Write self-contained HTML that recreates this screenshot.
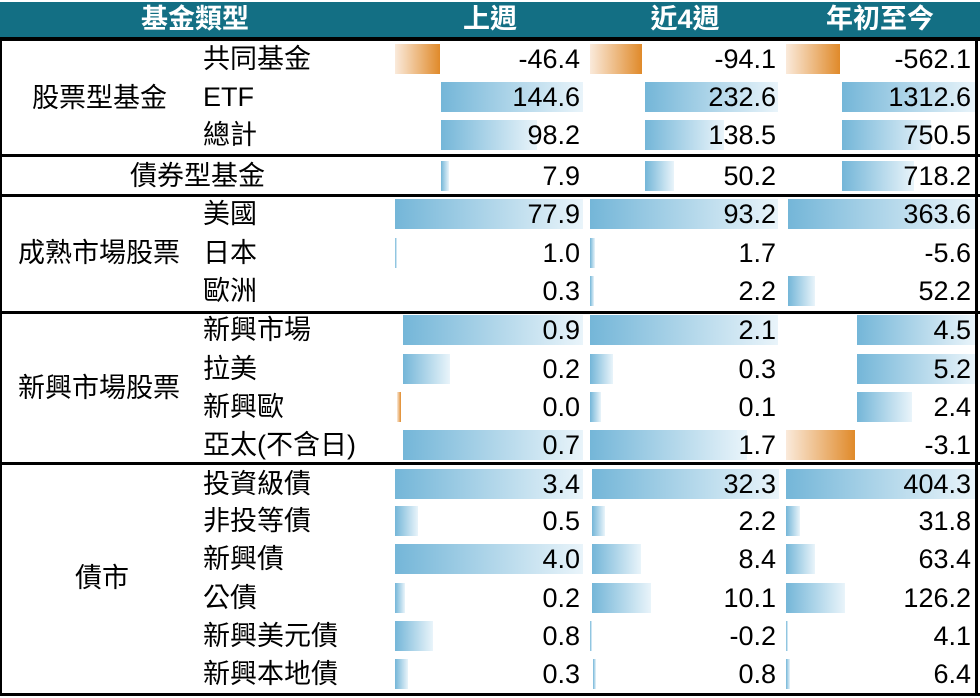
<!DOCTYPE html>
<html><head><meta charset="utf-8"><style>
body{margin:0;width:980px;height:698px;background:#fff;position:relative;overflow:hidden;font-family:"Liberation Sans","Noto Sans CJK TC",sans-serif;color:#000}
div{position:absolute}
.h{top:2px;height:35px;background:#136f84}
.ht{top:2px;height:35px;line-height:35px;color:#fff;font-weight:bold;font-size:27px;text-align:center}
.k{background:#000}
.t{font-size:27px;line-height:30px;white-space:nowrap}
.n{font-size:27px;line-height:30px;text-align:right;width:180px}
.b{height:30px;background:linear-gradient(to right,#74b6d8,#e9f4fa)}
.o{height:30px;background:linear-gradient(to right,#faeadb,#e08a2a)}
</style></head><body>
<div class="h" style="left:0;width:980px"></div>
<div class="ht" style="left:95px;width:200px">基金類型</div>
<div class="ht" style="left:440px;width:100px">上週</div>
<div class="ht" style="left:630px;width:110px">近4週</div>
<div class="ht" style="left:805px;width:150px">年初至今</div>
<div class="k" style="left:0;top:37px;width:980px;height:4px"></div>
<div class="k" style="left:0;top:154px;width:980px;height:3px"></div>
<div class="k" style="left:0;top:194px;width:980px;height:3px"></div>
<div class="k" style="left:0;top:311px;width:980px;height:3px"></div>
<div class="k" style="left:0;top:462px;width:980px;height:3px"></div>
<div class="k" style="left:0;top:693px;width:980px;height:3px"></div>
<div class="k" style="left:0;top:37px;width:2px;height:659px"></div>
<div class="k" style="left:975px;top:37px;width:3px;height:659px"></div>

<div class="o" style="left:395px;top:44px;width:45px"></div>
<div class="o" style="left:590px;top:44px;width:52px"></div>
<div class="o" style="left:786px;top:44px;width:54px"></div>
<div class="b" style="left:441px;top:82px;width:142px"></div>
<div class="b" style="left:645px;top:82px;width:133px"></div>
<div class="b" style="left:842px;top:82px;width:133px"></div>
<div class="b" style="left:441px;top:120px;width:96px"></div>
<div class="b" style="left:645px;top:120px;width:79px"></div>
<div class="b" style="left:842px;top:120px;width:89px"></div>
<div class="b" style="left:441px;top:161px;width:8px"></div>
<div class="b" style="left:645px;top:161px;width:29px"></div>
<div class="b" style="left:842px;top:161px;width:72px"></div>
<div class="b" style="left:395px;top:199px;width:188px"></div>
<div class="b" style="left:590px;top:199px;width:188px"></div>
<div class="b" style="left:788px;top:199px;width:187px"></div>
<div class="b" style="left:395px;top:238px;width:2px"></div>
<div class="b" style="left:590px;top:238px;width:5px"></div>
<div class="b" style="left:590px;top:276px;width:4px"></div>
<div class="b" style="left:788px;top:276px;width:27px"></div>
<div class="b" style="left:403px;top:315px;width:180px"></div>
<div class="b" style="left:590px;top:315px;width:188px"></div>
<div class="b" style="left:857px;top:315px;width:118px"></div>
<div class="b" style="left:403px;top:354px;width:47px"></div>
<div class="b" style="left:590px;top:354px;width:23px"></div>
<div class="b" style="left:857px;top:354px;width:118px"></div>
<div class="o" style="left:397px;top:392px;width:4px"></div>
<div class="b" style="left:590px;top:392px;width:11px"></div>
<div class="b" style="left:857px;top:392px;width:55px"></div>
<div class="b" style="left:403px;top:430px;width:180px"></div>
<div class="b" style="left:590px;top:430px;width:157px"></div>
<div class="o" style="left:786px;top:430px;width:69px"></div>
<div class="b" style="left:395px;top:469px;width:188px"></div>
<div class="b" style="left:592px;top:469px;width:187px"></div>
<div class="b" style="left:786px;top:469px;width:189px"></div>
<div class="b" style="left:395px;top:506px;width:23px"></div>
<div class="b" style="left:592px;top:506px;width:13px"></div>
<div class="b" style="left:786px;top:506px;width:14px"></div>
<div class="b" style="left:395px;top:544px;width:188px"></div>
<div class="b" style="left:592px;top:544px;width:49px"></div>
<div class="b" style="left:786px;top:544px;width:29px"></div>
<div class="b" style="left:395px;top:583px;width:10px"></div>
<div class="b" style="left:592px;top:583px;width:59px"></div>
<div class="b" style="left:786px;top:583px;width:59px"></div>
<div class="b" style="left:395px;top:621px;width:38px"></div>
<div class="b" style="left:590px;top:621px;width:2px"></div>
<div class="b" style="left:786px;top:621px;width:2px"></div>
<div class="b" style="left:395px;top:659px;width:13px"></div>
<div class="b" style="left:593px;top:659px;width:3px"></div>
<div class="b" style="left:786px;top:659px;width:4px"></div>

<div class="t" style="left:32px;top:83px">股票型基金</div>
<div class="t" style="left:130px;top:161px">債券型基金</div>
<div class="t" style="left:18px;top:238px">成熟市場股票</div>
<div class="t" style="left:18px;top:373px">新興市場股票</div>
<div class="t" style="left:75px;top:563px">債市</div>

<div class="t" style="left:203px;top:44px">共同基金</div>
<div class="t" style="left:203px;top:82px">ETF</div>
<div class="t" style="left:203px;top:120px">總計</div>
<div class="t" style="left:203px;top:199px">美國</div>
<div class="t" style="left:203px;top:238px">日本</div>
<div class="t" style="left:203px;top:276px">歐洲</div>
<div class="t" style="left:203px;top:315px">新興市場</div>
<div class="t" style="left:203px;top:354px">拉美</div>
<div class="t" style="left:203px;top:392px">新興歐</div>
<div class="t" style="left:203px;top:430px">亞太(不含日)</div>
<div class="t" style="left:203px;top:469px">投資級債</div>
<div class="t" style="left:203px;top:506px">非投等債</div>
<div class="t" style="left:203px;top:544px">新興債</div>
<div class="t" style="left:203px;top:583px">公債</div>
<div class="t" style="left:203px;top:621px">新興美元債</div>
<div class="t" style="left:203px;top:659px">新興本地債</div>

<div class="n" style="left:400px;top:44px">-46.4</div><div class="n" style="left:596px;top:44px">-94.1</div><div class="n" style="left:791px;top:44px">-562.1</div>
<div class="n" style="left:400px;top:82px">144.6</div><div class="n" style="left:596px;top:82px">232.6</div><div class="n" style="left:791px;top:82px">1312.6</div>
<div class="n" style="left:400px;top:120px">98.2</div><div class="n" style="left:596px;top:120px">138.5</div><div class="n" style="left:791px;top:120px">750.5</div>
<div class="n" style="left:400px;top:161px">7.9</div><div class="n" style="left:596px;top:161px">50.2</div><div class="n" style="left:791px;top:161px">718.2</div>
<div class="n" style="left:400px;top:199px">77.9</div><div class="n" style="left:596px;top:199px">93.2</div><div class="n" style="left:791px;top:199px">363.6</div>
<div class="n" style="left:400px;top:238px">1.0</div><div class="n" style="left:596px;top:238px">1.7</div><div class="n" style="left:791px;top:238px">-5.6</div>
<div class="n" style="left:400px;top:276px">0.3</div><div class="n" style="left:596px;top:276px">2.2</div><div class="n" style="left:791px;top:276px">52.2</div>
<div class="n" style="left:400px;top:315px">0.9</div><div class="n" style="left:596px;top:315px">2.1</div><div class="n" style="left:791px;top:315px">4.5</div>
<div class="n" style="left:400px;top:354px">0.2</div><div class="n" style="left:596px;top:354px">0.3</div><div class="n" style="left:791px;top:354px">5.2</div>
<div class="n" style="left:400px;top:392px">0.0</div><div class="n" style="left:596px;top:392px">0.1</div><div class="n" style="left:791px;top:392px">2.4</div>
<div class="n" style="left:400px;top:430px">0.7</div><div class="n" style="left:596px;top:430px">1.7</div><div class="n" style="left:791px;top:430px">-3.1</div>
<div class="n" style="left:400px;top:469px">3.4</div><div class="n" style="left:596px;top:469px">32.3</div><div class="n" style="left:791px;top:469px">404.3</div>
<div class="n" style="left:400px;top:506px">0.5</div><div class="n" style="left:596px;top:506px">2.2</div><div class="n" style="left:791px;top:506px">31.8</div>
<div class="n" style="left:400px;top:544px">4.0</div><div class="n" style="left:596px;top:544px">8.4</div><div class="n" style="left:791px;top:544px">63.4</div>
<div class="n" style="left:400px;top:583px">0.2</div><div class="n" style="left:596px;top:583px">10.1</div><div class="n" style="left:791px;top:583px">126.2</div>
<div class="n" style="left:400px;top:621px">0.8</div><div class="n" style="left:596px;top:621px">-0.2</div><div class="n" style="left:791px;top:621px">4.1</div>
<div class="n" style="left:400px;top:659px">0.3</div><div class="n" style="left:596px;top:659px">0.8</div><div class="n" style="left:791px;top:659px">6.4</div>
</body></html>
